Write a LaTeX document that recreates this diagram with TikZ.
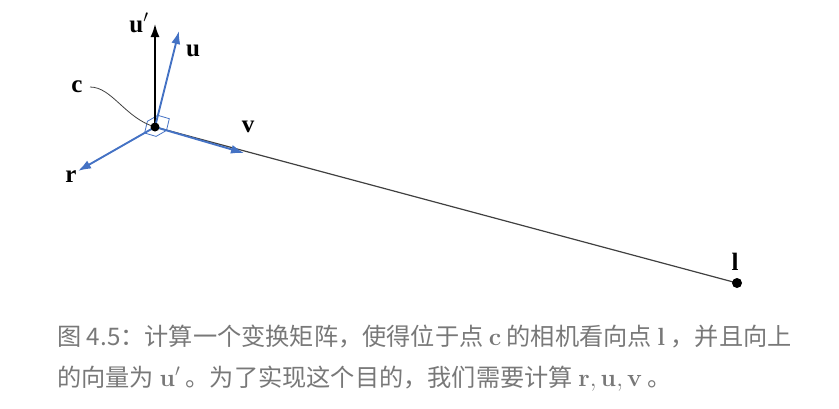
\documentclass[tikz,border=0pt]{standalone}
\usepackage[no-math]{fontspec}
\usepackage{amsmath}
\newfontfamily\cjk{Noto Sans CJK SC}
\newfontfamily\timesfont{Liberation Serif}
\usetikzlibrary{arrows.meta, calc}
\definecolor{vecblue}{RGB}{68,114,196}
\definecolor{capgray}{RGB}{120,120,120}

\begin{document}
\begin{tikzpicture}[x = 1pt, y = -1pt, % pixel-like units, y going down
                > = {Latex[length=13pt, width=9pt]}, % arrow head style
                semithick % line style
            ]

            \tikzstyle{every node}=[inner sep = 0pt]
            \tikzstyle{veclabel}=[font=\timesfont\fontsize{25}{25}\selectfont\bfseries]
            \tikzstyle{bluevec}=[->, vecblue, line width = 1.9pt]
            \tikzstyle{caption}=[anchor = base west, text = capgray,
            font=\cjk\fontsize{24.2}{42}\selectfont]

            \useasboundingbox (0,0) rectangle (839,408);

            % points and arrow ends
            \coordinate (c) at (155,127); \coordinate (l) at (737,283);
            \coordinate (up) at (155,24); \coordinate (u) at (179,31);
            \coordinate (v) at (244,153); \coordinate (r) at (78,171);
            \coordinate (cfoot) at (90,87);

            % viewing line
            \draw[line width = 1.2pt, black!75] (c) -- (l);

            % right angle marks between r, u, v
            \draw[vecblue, line width = 0.8pt] ($(c)+(2.8,-11.7)$) -- ++(11.5,3.4)
            -- ++(-2.8,11.7) -- ++(-10.4,6.0) -- ++(-11.5,-3.4) -- ++(2.8,-11.7)
            -- cycle;

            % pointer to c
            \draw[line width = 0.8pt, black!75] (cfoot) .. controls (112,87) and
            (125,118) .. (c);

            \draw[->, line width = 1.5pt] (c) -- (up);
            \path[bluevec] (c) edge (u); \path[bluevec] (c) edge (v);
            \path[bluevec] (c) edge (r);

            \fill (c) circle (4.5pt); \fill (l) circle (5pt);

            % labels
            \node[veclabel, anchor = base] (uplabel) at (139,32) {u$'$};
            \node[veclabel, anchor = base] (ulabel) at (193,56) {u};
            \node[veclabel, anchor = base] (vlabel) at (248,132) {v};
            \node[veclabel, anchor = base] (rlabel) at (71,182) {r};
            \node[veclabel, anchor = base] (clabel) at (77,92) {c};
            \node[veclabel, anchor = base] (llabel) at (735,270) {l};

            % caption
            \node[caption] (cap1) at (57,345) {图 4.5：计算一个变换矩阵，使得位于点
            $\mathbf{c}$ 的相机看向点 $\mathbf{l}$ ，并且向上};
            \node[caption] (cap2) at (57,386) {的向量为 $\mathbf{u}'$
            。为了实现这个目的，我们需要计算 $\mathbf{r},\mathbf{u},\mathbf{v}$ 。};
\end{tikzpicture}
\end{document}
